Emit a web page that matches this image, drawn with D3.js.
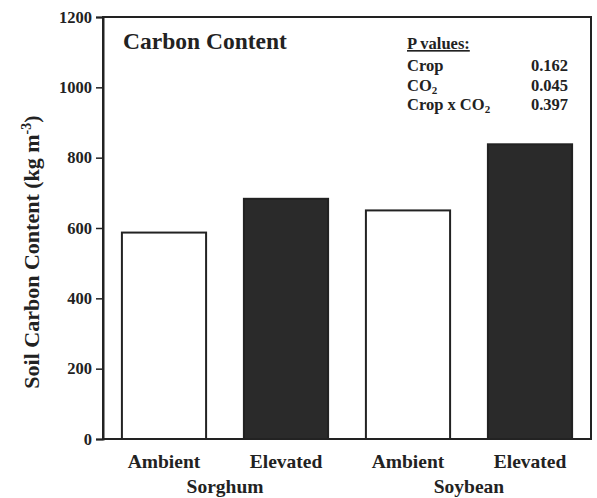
<!DOCTYPE html>
<html><head><meta charset="utf-8">
<script src="https://cdn.jsdelivr.net/npm/d3@7"></script>
<style>body{margin:0;background:#fff}</style>
</head><body>
<svg id="c" width="597" height="498"></svg>
<script>
const treatments = ["Ambient", "Elevated", "Ambient", "Elevated"];
const crops = ["Sorghum", "Soybean"];
const values = [587, 683, 650, 838];
const fills = ["#fff", "#2a2a2a", "#fff", "#2a2a2a"];
const yTicks = [0, 200, 400, 600, 800, 1000, 1200];
const pLabels = ["Crop", "CO2", "Crop x CO2"];
const pValues = ["0.162", "0.045", "0.397"];

const svg = d3.select("#c");
const L = 103, R = 591, T = 17, B = 439;
const font = "'Liberation Serif', 'Times New Roman', serif";
const ink = "#222";

const x = d3.scaleBand().domain(d3.range(values.length)).range([L, R]).paddingInner(0.31).paddingOuter(0.155);
const y = d3.scaleLinear().domain([0, 1200]).range([B, T]);

// bars
svg.selectAll("rect.bar").data(values).join("rect")
  .attr("x", (d, i) => x(i)).attr("width", x.bandwidth())
  .attr("y", d => y(d)).attr("height", d => y(0) - y(d))
  .attr("fill", (d, i) => fills[i]).attr("stroke", ink).attr("stroke-width", 2);

// frame
svg.append("rect").attr("x", L).attr("y", T).attr("width", R - L).attr("height", B - T)
  .attr("fill", "none").attr("stroke", ink).attr("stroke-width", 2);

// y axis
const yAxis = svg.append("g").attr("transform", `translate(${L},0)`)
  .call(d3.axisLeft(y).tickValues(yTicks).tickFormat(d3.format("d")).tickSize(7).tickPadding(4));
yAxis.select(".domain").attr("stroke", ink).attr("stroke-width", 2);
yAxis.selectAll(".tick line").attr("stroke", ink).attr("stroke-width", 1.5);
yAxis.selectAll("text").attr("font-family", font).attr("font-weight", "bold")
  .attr("font-size", 16.5).attr("fill", ink);

// x labels
svg.selectAll("text.treat").data(treatments).join("text")
  .attr("x", (d, i) => x(i) + x.bandwidth() / 2).attr("y", 468)
  .attr("text-anchor", "middle").attr("font-family", font).attr("font-weight", "bold")
  .attr("font-size", 19.5).attr("fill", ink).text(d => d);
svg.selectAll("text.crop").data(crops).join("text")
  .attr("x", (d, i) => (x(2 * i) + x(2 * i + 1) + x.bandwidth()) / 2).attr("y", 493)
  .attr("text-anchor", "middle").attr("font-family", font).attr("font-weight", "bold")
  .attr("font-size", 19.5).attr("fill", ink).text(d => d);

// y title
const yt = svg.append("text").attr("transform", "translate(39,252) rotate(-90)")
  .attr("text-anchor", "middle").attr("font-family", font).attr("font-weight", "bold")
  .attr("font-size", 22).attr("fill", ink);
yt.append("tspan").text("Soil Carbon Content (kg m");
yt.append("tspan").attr("font-size", 14).attr("dy", -8).text("-3");
yt.append("tspan").attr("dy", 8).text(")");

// title
svg.append("text").attr("x", 123).attr("y", 49).attr("font-family", font).attr("font-weight", "bold")
  .attr("font-size", 23.5).attr("fill", ink).text("Carbon Content");

// P values box
const pf = 16.5;
svg.append("text").attr("x", 407).attr("y", 49).attr("font-family", font).attr("font-weight", "bold")
  .attr("font-size", pf).attr("fill", ink).attr("text-decoration", "underline").text("P values:");
pLabels.forEach((lab, i) => {
  const t = svg.append("text").attr("x", 407).attr("y", 71 + i * 19.5).attr("font-family", font)
    .attr("font-weight", "bold").attr("font-size", pf).attr("fill", ink);
  if (lab.endsWith("CO2")) {
    t.append("tspan").text(lab.slice(0, -1));
    t.append("tspan").attr("font-size", 11).attr("dy", 3).text("2");
  } else t.text(lab);
  svg.append("text").attr("x", 568).attr("y", 71 + i * 19.5).attr("text-anchor", "end")
    .attr("font-family", font).attr("font-weight", "bold").attr("font-size", pf).attr("fill", ink)
    .text(pValues[i]);
});
</script>
</body></html>
